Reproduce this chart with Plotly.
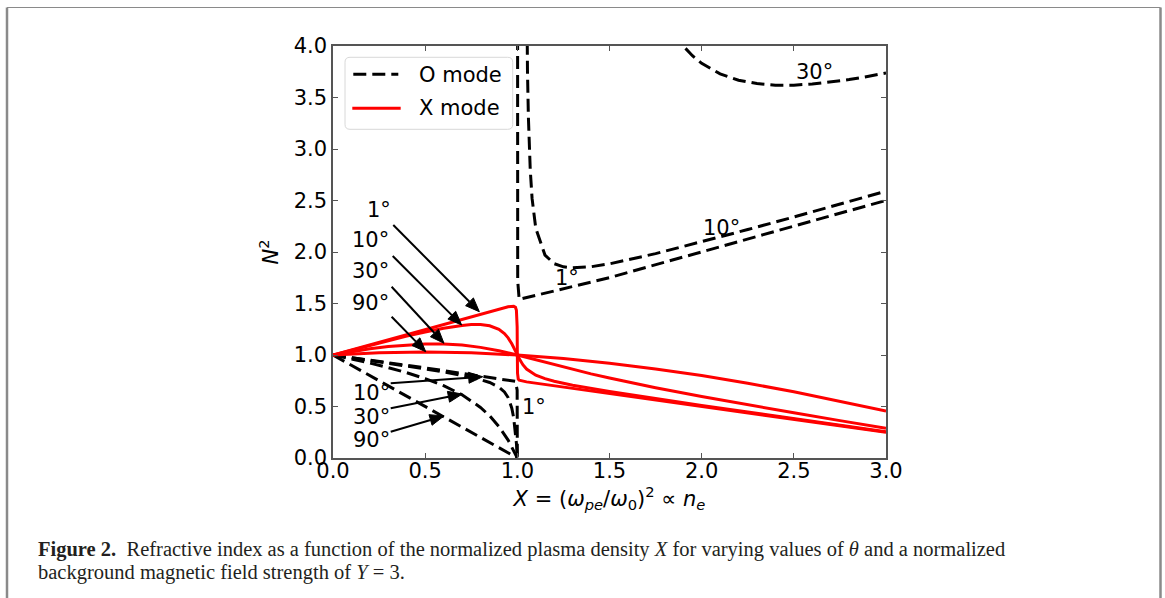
import math
import plotly.graph_objects as go

# ---------------- data ----------------
# O mode (dashed black)
X_O1_LO = [0.0, 0.5, 0.99, 0.999, 1.0]
N2_O1_LO = [1.0, 0.875, 0.744, 0.659, 0.0]
X_O1_HI = [1.0004, 1.001, 1.002, 1.01, 1.5, 2.0, 2.5, 3.0]
N2_O1_HI = [8.7, 2.08, 1.72, 1.54, 1.751, 2.001, 2.251, 2.501]

X_O10_LO = [0.0, 0.1, 0.2, 0.3, 0.4, 0.5, 0.6, 0.7, 0.8, 0.85, 0.9, 0.93, 0.95, 0.97, 0.98, 0.99, 0.995, 1.0]
N2_O10_LO = [1.0, 0.974, 0.947, 0.920, 0.893, 0.865, 0.835, 0.802, 0.761, 0.733, 0.689, 0.642, 0.587, 0.484, 0.393, 0.249, 0.143, 0.0]
X_O10_HI = [1.045, 1.05, 1.055, 1.06, 1.07, 1.08, 1.1, 1.15, 1.2, 1.25, 1.3, 1.4, 1.5, 1.75, 2.0, 2.25, 2.5, 2.75, 3.0]
N2_O10_HI = [6.07, 4.52, 3.76, 3.31, 2.80, 2.52, 2.23, 1.97, 1.887, 1.856, 1.846, 1.857, 1.885, 1.984, 2.098, 2.218, 2.340, 2.464, 2.590]

X_O30_LO = [0.0, 0.1, 0.2, 0.3, 0.4, 0.5, 0.6, 0.7, 0.8, 0.85, 0.9, 0.95, 0.98, 1.0]
N2_O30_LO = [1.0, 0.962, 0.922, 0.877, 0.828, 0.771, 0.702, 0.614, 0.491, 0.409, 0.306, 0.174, 0.076, 0.0]
X_O30_HI = [1.8, 1.85, 1.9, 1.95, 2.0, 2.1, 2.2, 2.3, 2.4, 2.5, 2.6, 2.7, 2.8, 2.9, 3.0]
N2_O30_HI = [4.285, 4.124, 4.0, 3.906, 3.832, 3.729, 3.668, 3.635, 3.620, 3.620, 3.631, 3.649, 3.674, 3.704, 3.738]

X_O90 = [0.0, 1.0]
N2_O90 = [1.0, 0.0]

# X mode (solid red)
X_X1 = [0.0, 0.5, 0.9, 0.95, 0.98, 0.99, 0.995, 0.999, 0.9999, 1.0, 1.0001, 1.001, 1.005, 1.01, 1.05, 1.5, 2.0, 2.5, 3.0]
N2_X1 = [1.0, 1.25, 1.447, 1.469, 1.474, 1.463, 1.435, 1.272, 1.037, 1.0, 0.965, 0.823, 0.766, 0.756, 0.739, 0.625, 0.5, 0.375, 0.25]

X_X10 = [0.0, 0.1, 0.2, 0.3, 0.4, 0.5, 0.6, 0.7, 0.75, 0.8, 0.85, 0.9, 0.93, 0.95, 0.97, 0.99, 1.0,
         1.01, 1.03, 1.05, 1.1, 1.15, 1.2, 1.3, 1.5, 1.75, 2.0, 2.25, 2.5, 2.75, 3.0]
N2_X10 = [1.0, 1.047, 1.094, 1.139, 1.183, 1.223, 1.259, 1.287, 1.295, 1.295, 1.284, 1.249, 1.208, 1.166, 1.109, 1.037, 1.0,
          0.965, 0.906, 0.864, 0.804, 0.770, 0.745, 0.707, 0.646, 0.577, 0.511, 0.447, 0.382, 0.318, 0.254]

X_X30 = [0.0, 0.1, 0.2, 0.3, 0.4, 0.5, 0.6, 0.7, 0.8, 0.9, 1.0, 1.1, 1.2, 1.3, 1.4, 1.5, 1.75, 2.0, 2.25, 2.5, 2.75, 3.0]
N2_X30 = [1.0, 1.032, 1.060, 1.082, 1.098, 1.107, 1.106, 1.096, 1.074, 1.041, 1.0, 0.954, 0.906, 0.860, 0.817, 0.776, 0.682, 0.597, 0.516, 0.439, 0.363, 0.289]

X_X90 = [0.0, 0.25, 0.5, 0.75, 1.0, 1.25, 1.5, 1.75, 2.0, 2.25, 2.5, 2.75, 3.0]
N2_X90 = [1.0, 1.023, 1.029, 1.021, 1.0, 0.966, 0.921, 0.865, 0.8, 0.726, 0.643, 0.552, 0.455]

X_TICKS = [0.0, 0.5, 1.0, 1.5, 2.0, 2.5, 3.0]
X_TICK_TEXT = ["0.0", "0.5", "1.0", "1.5", "2.0", "2.5", "3.0"]
Y_TICKS = [0.0, 0.5, 1.0, 1.5, 2.0, 2.5, 3.0, 3.5, 4.0]
Y_TICK_TEXT = ["0.0", "0.5", "1.0", "1.5", "2.0", "2.5", "3.0", "3.5", "4.0"]

# angle labels: (text, x, y)
LABELS = [
    ("1°", 0.248, 2.41), ("10°", 0.206, 2.12), ("30°", 0.203, 1.82), ("90°", 0.203, 1.505),
    ("10°", 0.209, 0.63), ("30°", 0.209, 0.398), ("90°", 0.209, 0.175),
    ("1°", 1.090, 0.50), ("30°", 2.610, 3.75), ("10°", 2.108, 2.232), ("1°", 1.272, 1.748),
]
# arrows: (tail x, tail y, head x, head y)
ARROWS = [
    (0.327, 2.262, 0.794, 1.420),
    (0.324, 1.961, 0.698, 1.291),
    (0.318, 1.663, 0.602, 1.114),
    (0.318, 1.372, 0.503, 1.032),
    (0.313, 0.725, 0.812, 0.789),
    (0.313, 0.483, 0.701, 0.621),
    (0.313, 0.255, 0.602, 0.408),
]

FONT = "DejaVu Sans"
DASH = "13px,6px"
RED = "#ff0000"
AXC = "#555555"

# plot-area geometry (pixels)
PL, PR, PT, PB = 333, 886, 46, 458
PW, PH = PR - PL, PB - PT
X_RANGE = [0, 3]
Y_RANGE = [0, 4]
SX = PW / (X_RANGE[1] - X_RANGE[0])
SY = PH / (Y_RANGE[1] - Y_RANGE[0])

fig = go.Figure()

o_sets = [("O mode 1°", X_O1_LO, N2_O1_LO), ("O mode 1°", X_O1_HI, N2_O1_HI),
          ("O mode 10°", X_O10_LO, N2_O10_LO), ("O mode 10°", X_O10_HI, N2_O10_HI),
          ("O mode 30°", X_O30_LO, N2_O30_LO), ("O mode 30°", X_O30_HI, N2_O30_HI),
          ("O mode 90°", X_O90, N2_O90)]
x_sets = [("X mode 1°", X_X1, N2_X1), ("X mode 10°", X_X10, N2_X10),
          ("X mode 30°", X_X30, N2_X30), ("X mode 90°", X_X90, N2_X90)]

for name, xs, ys in o_sets:
    fig.add_trace(go.Scatter(x=xs, y=ys, mode="lines", name=name, showlegend=False,
                             line=dict(color="black", width=3, dash=DASH)))
for name, xs, ys in x_sets:
    fig.add_trace(go.Scatter(x=xs, y=ys, mode="lines", name=name, showlegend=False,
                             line=dict(color=RED, width=3)))

for txt, lx, ly in LABELS:
    fig.add_annotation(x=lx, y=ly, xref="x", yref="y", text=txt, showarrow=False,
                       xanchor="center", yanchor="middle",
                       font=dict(family=FONT, size=21, color="black"))

# arrows drawn as a shaft + filled triangular head (built in pixel space, mapped to data)
HEAD_L, HEAD_W = 14.0, 5.5
for tx, ty, hx, hy in ARROWS:
    dx, dy = (hx - tx) * SX, (hy - ty) * SY
    ln = math.hypot(dx, dy)
    ux, uy = dx / ln, dy / ln
    nx, ny = -uy, ux
    bx, by = hx * SX - ux * HEAD_L, hy * SY - uy * HEAD_L
    p1 = ((bx + nx * HEAD_W) / SX, (by + ny * HEAD_W) / SY)
    p2 = ((bx - nx * HEAD_W) / SX, (by - ny * HEAD_W) / SY)
    fig.add_shape(type="line", xref="x", yref="y", x0=tx, y0=ty, x1=bx / SX, y1=by / SY,
                  line=dict(color="black", width=2))
    fig.add_shape(type="path", xref="x", yref="y",
                  path=f"M{hx},{hy} L{p1[0]},{p1[1]} L{p2[0]},{p2[1]} Z",
                  fillcolor="black", line=dict(color="black", width=1))

# ----- manual legend (rounded box) -----
lx0, lx1, ly0, ly1 = 0.0217, 0.3250, 0.7978, 0.9726
rx, ry = 5 / PW, 5 / PH
path = (f"M{lx0+rx},{ly0} L{lx1-rx},{ly0} Q{lx1},{ly0} {lx1},{ly0+ry} "
        f"L{lx1},{ly1-ry} Q{lx1},{ly1} {lx1-rx},{ly1} L{lx0+rx},{ly1} "
        f"Q{lx0},{ly1} {lx0},{ly1-ry} L{lx0},{ly0+ry} Q{lx0},{ly0} {lx0+rx},{ly0} Z")
fig.add_shape(type="path", path=path, xref="paper", yref="paper",
              line=dict(color="#d8d8d8", width=1), fillcolor="rgba(255,255,255,0.8)")
fig.add_shape(type="line", xref="paper", yref="paper", x0=0.0367, x1=0.1181, y0=0.9313, y1=0.9313,
              line=dict(color="black", width=3, dash=DASH))
fig.add_shape(type="line", xref="paper", yref="paper", x0=0.0349, x1=0.1224, y0=0.8488, y1=0.8488,
              line=dict(color=RED, width=3))
fig.add_annotation(x=0.1514, y=0.9290, xref="paper", yref="paper", text="O mode", showarrow=False,
                   xanchor="left", yanchor="middle", font=dict(family=FONT, size=21, color="black"))
fig.add_annotation(x=0.1514, y=0.8495, xref="paper", yref="paper", text="X mode", showarrow=False,
                   xanchor="left", yanchor="middle", font=dict(family=FONT, size=21, color="black"))

# ----- page frame -----
fx0, fx1 = (7 - PL) / PW, (1160.5 - PL) / PW
fy_top, fy_bot = (PB - 7.5) / PH, (PB - 605) / PH
fig.add_shape(type="line", xref="paper", yref="paper", x0=fx0, x1=fx0, y0=fy_bot, y1=fy_top,
              line=dict(color="#8a8a8a", width=2.5))
fig.add_shape(type="line", xref="paper", yref="paper", x0=fx1, x1=fx1, y0=fy_bot, y1=fy_top,
              line=dict(color="#8a8a8a", width=2.5))
fig.add_shape(type="line", xref="paper", yref="paper", x0=fx0, x1=fx1, y0=fy_top, y1=fy_top,
              line=dict(color="#8a8a8a", width=1.2))

# ----- caption -----
CAP1 = ("<b>Figure 2.</b>  Refractive index as a function of the normalized plasma density "
        "<i>X</i> for varying values of <i>θ</i> and a normalized")
CAP2 = "background magnetic field strength of <i>Y</i> = 3."
cx = (36 - PL) / PW
fig.add_annotation(x=cx, y=(PB - 549) / PH, xref="paper", yref="paper", text=CAP1, showarrow=False,
                   xanchor="left", yanchor="middle",
                   font=dict(family="Liberation Serif", size=20.5, color="#231f20"))
fig.add_annotation(x=cx, y=(PB - 572) / PH, xref="paper", yref="paper", text=CAP2, showarrow=False,
                   xanchor="left", yanchor="middle",
                   font=dict(family="Liberation Serif", size=20.5, color="#231f20"))

axis_common = dict(showgrid=False, zeroline=False, showline=True, linecolor=AXC, linewidth=1.5,
                   mirror="ticks", ticks="inside", ticklen=5, tickwidth=1.2, tickcolor=AXC,
                   tickfont=dict(family=FONT, size=21, color="black"))
fig.update_xaxes(range=X_RANGE, tickvals=X_TICKS, ticktext=X_TICK_TEXT, ticklabelstandoff=-7,
                 title=dict(text="<i>X</i> = (<i>ω</i><sub><i>pe</i></sub>/<i>ω</i><sub>0</sub>)<sup>2</sup> ∝ <i>n</i><sub><i>e</i></sub>",
                            font=dict(family=FONT, size=21, color="black"), standoff=1),
                 **axis_common)
fig.update_yaxes(range=Y_RANGE, tickvals=Y_TICKS, ticktext=Y_TICK_TEXT,
                 title=dict(text="<i>N</i><sup>2</sup>", font=dict(family=FONT, size=21, color="black"),
                            standoff=9),
                 **axis_common)

fig.update_layout(width=1165, height=598, margin=dict(l=PL, r=1165 - PR, t=PT, b=598 - PB),
                  plot_bgcolor="white", paper_bgcolor="white", showlegend=False,
                  font=dict(family=FONT, size=21, color="black"))

fig.write_html("out.html")
